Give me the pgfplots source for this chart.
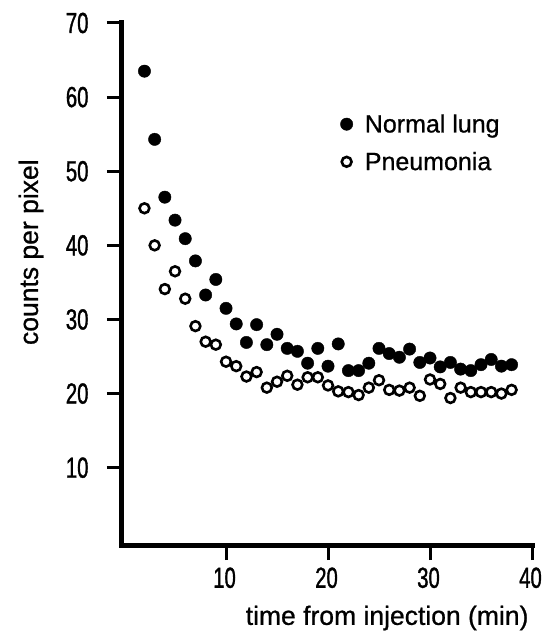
\documentclass[border=0pt]{standalone}
\usepackage{pgfplots}
\pgfplotsset{compat=1.18}
\usepackage{fontspec}
\setmainfont[FakeBold=0.8]{Liberation Sans}
\newfontfamily\labelfont[FakeBold=0.8]{Liberation Sans}
\newfontfamily\tickfont[FakeStretch=0.7, FakeBold=1.2]{Liberation Sans}

% normal lung (filled dots)
\pgfplotstableread{
t  c
2  63.5
3  54.3
4  46.5
5  43.4
6  40.9
7  37.9
8  33.3
9  35.4
10 31.5
11 29.4
12 26.9
13 29.3
14 26.6
15 28.0
16 26.1
17 25.7
18 24.1
19 26.1
20 23.7
21 26.7
22 23.1
23 23.1
24 24.1
25 26.1
26 25.4
27 24.9
28 26.0
29 24.2
30 24.8
31 23.6
32 24.2
33 23.3
34 23.1
35 23.9
36 24.6
37 23.7
38 23.9
}\normal

% pneumonia (open dots)
\pgfplotstableread{
t  c
2  45.0
3  40.0
4  34.1
5  36.5
6  32.8
7  29.1
8  27.0
9  26.6
10 24.3
11 23.7
12 22.3
13 22.9
14 20.8
15 21.6
16 22.4
17 21.2
18 22.2
19 22.2
20 21.1
21 20.3
22 20.2
23 19.8
24 20.8
25 21.8
26 20.5
27 20.4
28 20.8
29 19.7
30 21.9
31 21.3
32 19.4
33 20.8
34 20.2
35 20.2
36 20.2
37 20.0
38 20.5
}\pneumonia

\begin{document}
\begin{tikzpicture}
\path[use as bounding box] (-122pt,-92pt) rectangle (420pt,545pt);
\begin{axis}[
    scale only axis,
    width=410pt, height=522pt,
    xmin=-0.2, xmax=40,
    ymin=-0.43, ymax=70,
    axis lines=left,
    axis line style={-, line width=5pt, line cap=rect},
    tick align=outside,
    major tick length=15pt,
    tick style={line width=3pt, black},
    xtick={10,20,30,40},
    ytick={10,20,30,40,50,60,70},
    tick label style={font=\tickfont\fontsize{29}{32}\selectfont},
    /pgf/number format/assume math mode=true,
    yticklabel style={anchor=east, xshift=-15pt},
    xticklabel style={anchor=north, yshift=-4pt, xshift=-1.5pt},
    xlabel={time from injection (min)},
    ylabel={counts per pixel},
    label style={font=\labelfont\fontsize{26.5}{30}\selectfont},
    xlabel style={at={(axis description cs:1.0,-0.153)}, anchor=base east},
    ylabel style={at={(axis description cs:-0.205,0.561)}, anchor=base},
    legend style={draw=none, fill=none, at={(axis description cs:0.525,0.833)},
        anchor=north west, font=\labelfont\fontsize{25}{28}\selectfont,
        row sep=14pt,
        /tikz/every odd column/.append style={column sep=10pt}},
    legend cell align=left,
]
\addplot[only marks, mark=*, mark size=6.2pt,
    mark options={fill=black, draw=black, line width=0.4pt}]
    table[x=t, y=c] {\normal};
\addlegendentry{Normal lung}
\addplot[only marks, mark=o, mark size=4.9pt,
    mark options={fill=white, draw=black, line width=2.6pt}]
    table[x=t, y=c] {\pneumonia};
\addlegendentry{Pneumonia}
\end{axis}
\end{tikzpicture}
\end{document}
